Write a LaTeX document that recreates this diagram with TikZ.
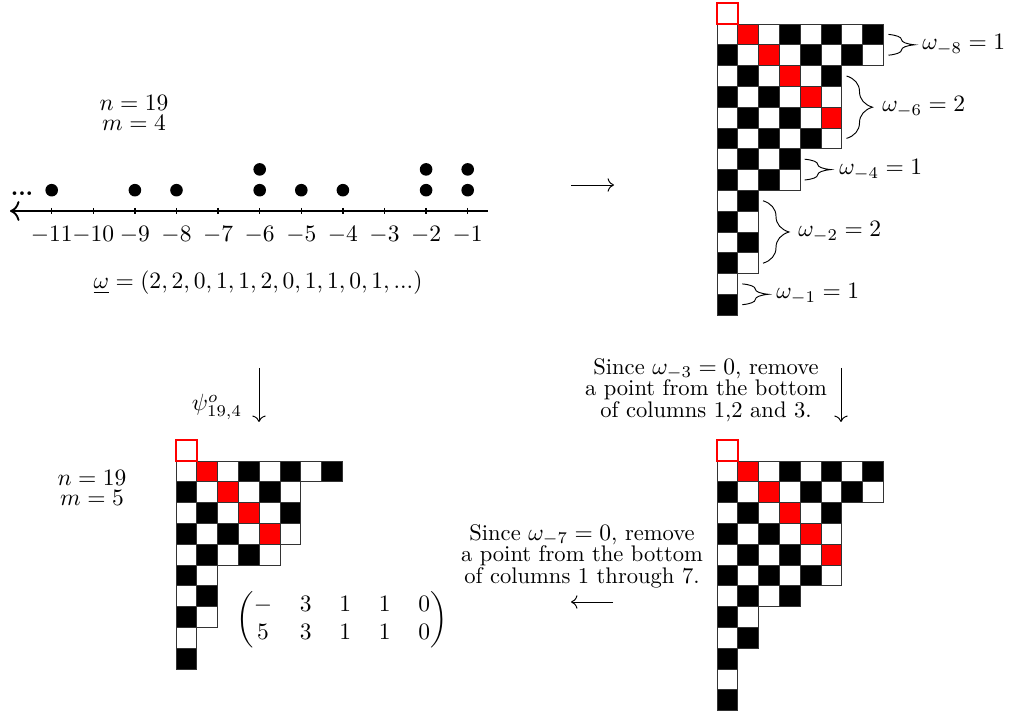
\documentclass[tikz,border=0pt]{standalone}
\usepackage{amsmath}
\usetikzlibrary{arrows.meta, positioning, decorations.pathreplacing}

% one unit = one pixel of the layout
\def\pxu{0.4255pt}

% board: top left corner, column/length list, number of red cells
\newcommand{\checkboard}[3]{%
  \begin{scope}[shift={#1}]
    \foreach \c/\len in {#2} {
      \foreach \r in {1,...,\len} {
        \pgfmathtruncatemacro{\odd}{mod(\r+\c,2)}
        \pgfmathtruncatemacro{\isred}{(\c==\r+1)*(\r<=#3)}
        \ifnum\isred=1 \def\tone{red}\else\ifnum\odd=1 \def\tone{black}\else\def\tone{white}\fi\fi
        \filldraw[cell, fill=\tone] ({(\c-1)*20.8},{(\r-1)*20.8}) rectangle ++(20.8,20.8);
      }
    }
    \draw[redbox] (0,-20.8) rectangle (20.8,0);
  \end{scope}}

\begin{document}
\begin{tikzpicture}[
  x=\pxu,
  y=-\pxu,
  cell/.style={
    draw=black!80,
    line width=0.4pt
  },
  redbox/.style={
    draw=red,
    line width=0.6pt
  },
  note/.style={
    align=center,
    inner sep=1pt,
    font=\fontsize{9.6pt}{9.2pt}\selectfont
  },
  pair/.style={
    align=center,
    font=\fontsize{10pt}{8.5pt}\selectfont
  },
  brace/.style={decorate, decoration={brace, amplitude=26*\pxu}},
  steparrow/.style={-{Computer Modern Rightarrow[scale=1.1]}},
  axis/.style={thick, {Computer Modern Rightarrow[scale=1.2]}-}
]

\useasboundingbox (0,0) rectangle (1013,713);

% ============================================================
% Top left: the points on the line
% ============================================================

\node[pair] (nmtop) at (134,113) {$n=19$\\$m=4$};

\draw[axis] (10,211) -- (488,211);
\foreach \k in {1,...,11} {
  \draw[semithick] ({467.7-(\k-1)*41.6},208) -- ++(0,6);
  \node (t\k) at ({467.7-(\k-1)*41.6},235) {$-\k$};
}

\foreach \k/\j in {1/1,1/2,2/1,2/2,4/1,5/1,6/1,6/2,8/1,9/1,11/1}
  \fill ({467.7-(\k-1)*41.6},{211-\j*20.8}) circle[radius=6.3*\pxu];

\node[anchor=base] (dots) at (22,196) {\textbf{...}};

\node (seq) at (258,283) {$\underline{\omega}=(2,2,0,1,1,2,0,1,1,0,1,...)$};

\coordinate (r1) at (571,185);
\coordinate (r2) at (614,185);
\draw[steparrow] (r1) -- (r2);

% ============================================================
% Top right: the board with the braces
% ============================================================

\checkboard{(717,24)}{1/14,2/12,3/8,4/8,5/6,6/6,7/2,8/2}{5}

\draw[brace] (888.5,34.4) -- (888.5,55.2);
\node[anchor=west] (w8) at (914,45) {$\omega_{-8}=1$};
\draw[brace] (846.5,76) -- (846.5,138.4);
\node[anchor=west] (w6) at (874,107) {$\omega_{-6}=2$};
\draw[brace] (804.7,159.2) -- (804.7,180);
\node[anchor=west] (w4) at (831,170) {$\omega_{-4}=1$};
\draw[brace] (763,200.8) -- (763,263.2);
\node[anchor=west] (w2) at (790,232) {$\omega_{-2}=2$};
\draw[brace] (742.3,283.9) -- (742.3,304.7);
\node[anchor=west] (w1) at (768,294) {$\omega_{-1}=1$};

% ============================================================
% Middle: the two vertical steps
% ============================================================

\coordinate (d1) at (259,368);
\coordinate (d2) at (259,422);
\draw[steparrow] (d1) -- (d2);
\node (psi) at (217,407) {$\psi^o_{19,4}$};

\node[note] (rule3) at (706,390) {Since $\omega_{-3}=0$, remove\\a point from the bottom\\of columns 1,2 and 3.};
\coordinate (d3) at (841,368);
\coordinate (d4) at (841,422);
\draw[steparrow] (d3) -- (d4);

% ============================================================
% Bottom right: board after removing
% ============================================================

\checkboard{(717,461)}{1/12,2/9,3/7,4/7,5/6,6/6,7/2,8/2}{5}

\node[note] (rule7) at (582,556) {Since $\omega_{-7}=0$, remove\\a point from the bottom\\of columns 1 through 7.};
\coordinate (l1) at (613,602);
\coordinate (l2) at (571,602);
\draw[steparrow] (l1) -- (l2);

% ============================================================
% Bottom left: resulting board
% ============================================================

\node[pair] (nmbot) at (92,488) {$n=19$\\$m=5$};

\checkboard{(176,461)}{1/10,2/8,3/5,4/5,5/5,6/4,7/1,8/1}{4}

\node (mat) at (342,620) {$\setlength\arraycolsep{5.9pt}\begin{pmatrix} - & 3 & 1 & 1 & 0\\ 5 & 3 & 1 & 1 & 0 \end{pmatrix}$};

\end{tikzpicture}
\end{document}
